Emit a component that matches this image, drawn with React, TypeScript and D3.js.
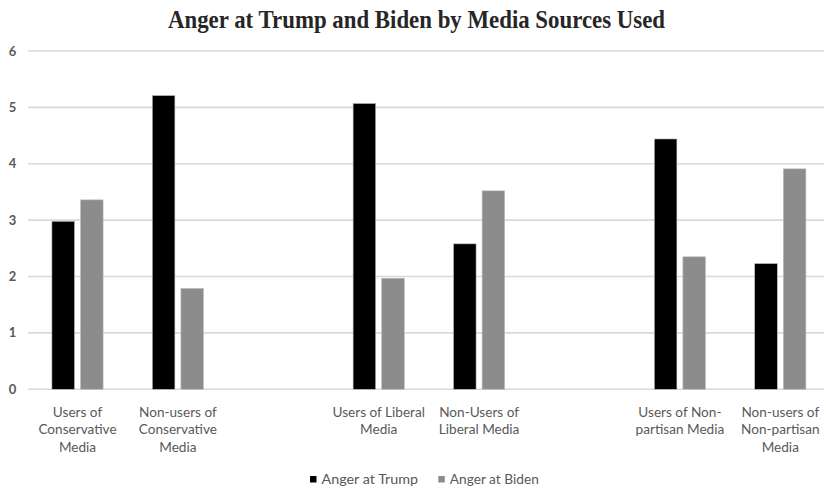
import React from "react";
import * as d3 from "d3";

const categories: string[][] = [
  ["Users of", "Conservative", "Media"],
  ["Non-users of", "Conservative", "Media"],
  [],
  ["Users of Liberal", "Media"],
  ["Non-Users of", "Liberal Media"],
  [],
  ["Users of Non-", "partisan Media"],
  ["Non-users of", "Non-partisan", "Media"],
];
const trump: (number | null)[] = [2.98, 5.21, null, 5.07, 2.58, null, 4.44, 2.23];
const biden: (number | null)[] = [3.36, 1.79, null, 1.97, 3.52, null, 2.35, 3.91];
const yTicks = [0, 1, 2, 3, 4, 5, 6];
const seriesNames = ["Anger at Trump", "Anger at Biden"];
const seriesColors = ["#000000", "#8c8c8c"];

const W = 826;
const H = 489;

export default function App() {
  const y = d3.scaleLinear().domain([0, 6]).range([389.3, 51]);
  const x = d3
    .scaleBand<number>()
    .domain(categories.map((_, i) => i))
    .range([27.3, 830.5])
    .padding(0);
  const groupW = 51.2;
  const x1 = d3
    .scaleBand<number>()
    .domain([0, 1])
    .range([0, groupW])
    .paddingInner(0.21)
    .paddingOuter(0);
  const series = [trump, biden];
  const font = "Lato, 'Open Sans', sans-serif";
  const textColor = "#595959";

  return (
    <svg
      width={W}
      height={H}
      style={{ position: "absolute", left: 0, top: 0, background: "#fff" }}
    >
      <rect x={0} y={0} width={W} height={H} fill="#fff" />
      <text
        x={168}
        y={28}
        textLength={497}
        lengthAdjust="spacingAndGlyphs"
        fontFamily="'Liberation Serif', 'Times New Roman', serif"
        fontWeight="bold"
        fontSize={25.5}
        fill="#262626"
      >
        Anger at Trump and Biden by Media Sources Used
      </text>
      {yTicks.map((t) => (
        <g key={t}>
          <line
            x1={28}
            x2={824}
            y1={y(t)}
            y2={y(t)}
            stroke="#d9d9d9"
            strokeWidth={1.6}
          />
          <text
            x={12.5}
            y={y(t) + 4.5}
            textAnchor="middle"
            fontFamily={font}
            fontWeight="bold"
            fontSize={13}
            fill={textColor}
          >
            {t}
          </text>
        </g>
      ))}
      {categories.map((_, i) => {
        const cx = (x(i) as number) + x.bandwidth() / 2;
        const gx = cx - groupW / 2;
        return (
          <g key={i}>
            {series.map((s, si) => {
              const v = s[i];
              if (v == null) return null;
              return (
                <rect
                  key={si}
                  x={gx + (x1(si) as number)}
                  y={y(v)}
                  width={x1.bandwidth()}
                  height={y(0) - y(v)}
                  fill={seriesColors[si]}
                  stroke="#bfbfbf"
                  strokeWidth={0.6}
                />
              );
            })}
          </g>
        );
      })}
      {categories.map((lines, i) => {
        const cx = (x(i) as number) + x.bandwidth() / 2;
        return (
          <text
            key={i}
            textAnchor="middle"
            fontFamily={font}
            fontSize={13.6}
            fill={textColor}
          >
            {lines.map((l, li) => (
              <tspan key={li} x={cx} y={416.5 + li * 17.5}>
                {l}
              </tspan>
            ))}
          </text>
        );
      })}
      {seriesNames.map((n, i) => {
        const lx = [310, 438.3][i];
        const tw = [96.6, 89][i];
        return (
          <g key={n}>
            <rect x={lx} y={476} width={6.5} height={6.5} fill={seriesColors[i]} />
            <text
              x={lx + 11.5}
              y={484}
              textLength={tw}
              lengthAdjust="spacingAndGlyphs"
              fontFamily={font}
              fontSize={14}
              fill={textColor}
            >
              {n}
            </text>
          </g>
        );
      })}
    </svg>
  );
}
